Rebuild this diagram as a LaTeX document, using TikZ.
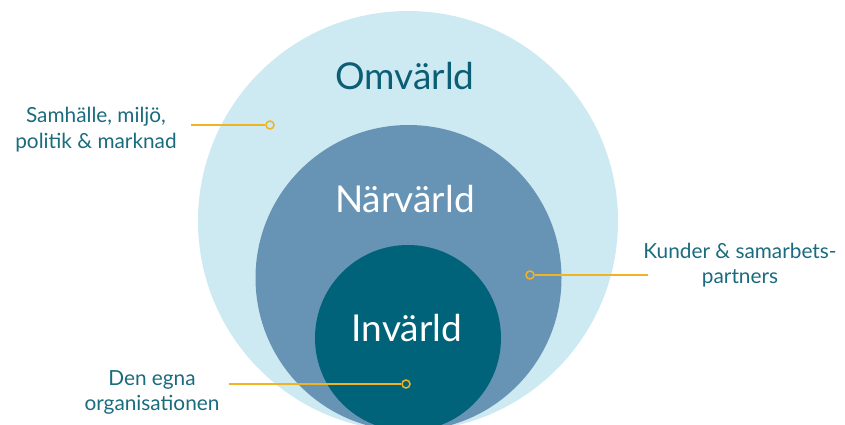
\documentclass[tikz,border=0pt]{standalone}
\usepackage{fontspec}
\setmainfont{Lato}
\definecolor{outerc}{HTML}{CDEAF2}
\definecolor{midc}{HTML}{6794B4}
\definecolor{innerc}{HTML}{00637A}
\definecolor{titlec}{HTML}{0B5E73}
\definecolor{labelc}{HTML}{1A6B7E}
\definecolor{goldc}{HTML}{F0B323}
\begin{document}
\begin{tikzpicture}[x=1pt,y=-1pt,
  lbl/.style={text=labelc,align=center,font=\fontsize{20.8}{25}\selectfont,inner sep=0pt},
  big/.style={font=\fontsize{37}{40}\selectfont,inner sep=0pt},
  leader/.style={draw=goldc,line width=1.5pt},
  dotmark/.style={circle,draw=goldc,line width=1.5pt,minimum size=8pt,inner sep=0pt}]
\useasboundingbox (0,0) rectangle (845,425);
\begin{scope}
\clip (0,0) rectangle (845,425);
\fill[outerc] (408,221) circle[radius=210];
\fill[midc] (408.5,278) circle[radius=153];
\fill[innerc] (408,338) circle[radius=93];
\end{scope}
\node[big,text=titlec,anchor=base] (omv) at (405,90) {Omvärld};
\node[big,text=white,anchor=base] (narv) at (405,212) {Närvärld};
\node[big,text=white,anchor=base] (inv) at (407,341) {Invärld};
% labels (base anchor = last line baseline)
\node[lbl,anchor=base] (l1) at (96,148) {Samhälle, miljö,\\politik \& marknad};
\node[lbl,anchor=base] (l2) at (740,283) {Kunder \& samarbets-\\partners};
\node[lbl,anchor=base] (l3) at (152,410) {Den egna\\organisationen};
% markers
\node[dotmark] (m1) at (270,125) {};
\node[dotmark] (m2) at (530,275) {};
\node[dotmark] (m3) at (406,384) {};
\coordinate (e1) at (191,125);
\coordinate (e2) at (648,275);
\coordinate (e3) at (229,384);
\draw[leader] (e1) -- (m1.west);
\draw[leader] (m2.east) -- (e2);
\draw[leader] (e3) -- (m3.west);
\end{tikzpicture}
\end{document}
